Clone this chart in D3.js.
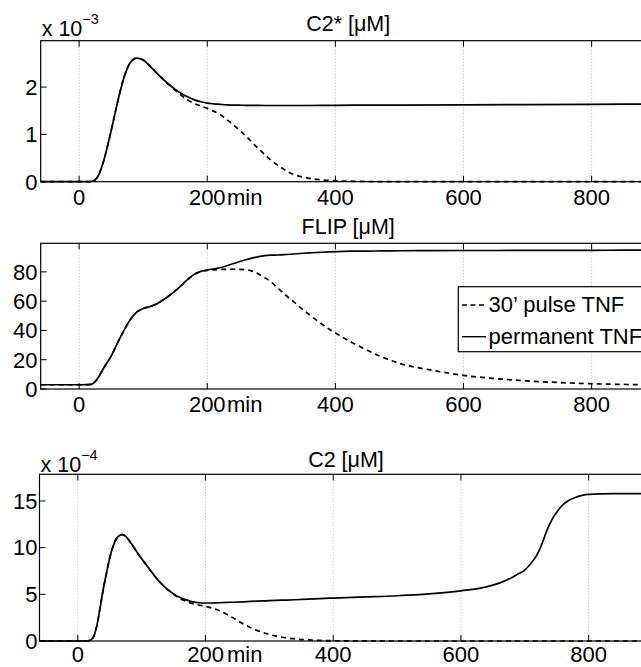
<!DOCTYPE html>
<html>
<head>
<meta charset="utf-8">
<script src="https://cdn.jsdelivr.net/npm/d3@7"></script>
<style>
  body { margin: 0; background: #fff; }
  svg { display: block; }
  text { font-family: "Liberation Sans", Arial, Helvetica, sans-serif; fill: #000; }
</style>
</head>
<body>
<svg width="641" height="667"></svg>
<script>
// ---- data ----
// panel 1: C2* (units of 1e-3 uM)
let t1 = [-60, 0, 15, 20, 25, 30, 35, 40, 45, 50, 55, 60, 65, 70, 75, 80, 85, 90, 95, 100,
  110, 120, 130, 140, 150, 160, 170, 180, 190, 200, 210, 220, 230, 240, 250, 260, 270, 280, 290, 300,
  310, 320, 330, 340, 360, 380, 400, 450, 500, 600, 700, 800, 900];
let c2sPerm = [0, 0, 0, 0.01, 0.04, 0.13, 0.3, 0.52, 0.79, 1.08, 1.38, 1.68, 1.96, 2.2, 2.39, 2.52, 2.59, 2.61, 2.6, 2.57,
  2.45, 2.31, 2.18, 2.06, 1.95, 1.86, 1.79, 1.73, 1.69, 1.66, 1.645, 1.635, 1.625, 1.62, 1.617, 1.615, 1.613, 1.612, 1.611, 1.61,
  1.61, 1.61, 1.61, 1.61, 1.61, 1.612, 1.615, 1.617, 1.62, 1.625, 1.63, 1.635, 1.64];
let c2sPulse = [0, 0, 0, 0.01, 0.04, 0.13, 0.3, 0.52, 0.79, 1.08, 1.38, 1.68, 1.96, 2.2, 2.39, 2.52, 2.59, 2.61, 2.6, 2.57,
  2.45, 2.31, 2.18, 2.05, 1.93, 1.82, 1.72, 1.65, 1.6, 1.55, 1.49, 1.42, 1.32, 1.21, 1.09, 0.97, 0.83, 0.7, 0.57, 0.45,
  0.35, 0.26, 0.18, 0.13, 0.07, 0.035, 0.02, 0.005, 0, 0, 0, 0, 0];

// panel 2: FLIP (uM)
let t2 = [-60, 0, 15, 20, 25, 30, 35, 40, 50, 60, 70, 80, 90, 100, 110, 120, 130, 140, 150, 160,
  170, 180, 190, 200, 220, 240, 260, 270, 280, 290, 300, 310, 320, 335, 350, 360, 375, 390, 405, 425,
  450, 475, 500, 550, 600, 650, 700, 750, 800, 850, 900];
let flipPerm = [2.9, 2.9, 3.0, 3.3, 5, 8, 11.8, 15.5, 22.5, 31.5, 40, 47.5, 52.5, 55, 56.2, 57.8, 60.5, 63.5, 67, 71,
  75, 78.3, 80.3, 81.3, 82.8, 85.5, 88.3, 89.4, 90.4, 91.1, 91.4, 91.5, 91.7, 92.2, 92.7, 93, 93.3, 93.6, 93.8, 94.1,
  94.2, 94.3, 94.4, 94.5, 94.6, 94.6, 94.7, 94.7, 94.7, 94.8, 94.8];
let flipPulse = [2.9, 2.9, 3.0, 3.3, 5, 8, 11.8, 15.5, 22.5, 31.5, 40, 47.5, 52.5, 55, 56.2, 57.8, 60.5, 63.5, 67, 71,
  75, 78.3, 80.3, 81.0, 81.6, 81.8, 81.5, 80.5, 78.5, 76, 73, 69, 65, 59.5, 54, 50.5, 45.5, 41, 37, 32,
  26.4, 21.5, 17.5, 12.9, 9.3, 7.1, 5.5, 4.4, 3.6, 3.1, 2.8];

// panel 3: C2 (units of 1e-4 uM)
let t3 = [-60, 0, 15, 20, 25, 30, 35, 40, 45, 50, 55, 60, 65, 70, 75, 80, 90, 100, 110, 120,
  130, 140, 150, 160, 170, 180, 190, 200, 220, 240, 260, 280, 300, 320, 340, 360, 380, 400, 450, 500,
  550, 600, 640, 660, 680, 690, 700, 705, 710, 715, 720, 725, 730, 735, 740, 745, 750, 760, 770, 780,
  790, 800, 840, 900];
let c2Perm = [0, 0, 0, 0.1, 0.5, 1.7, 3.6, 5.6, 7.3, 8.9, 10.1, 10.9, 11.3, 11.4, 11.2, 10.8, 9.8, 8.8, 7.9, 7.0,
  6.2, 5.55, 5.05, 4.65, 4.4, 4.2, 4.1, 4.07, 4.1, 4.15, 4.2, 4.27, 4.32, 4.37, 4.42, 4.48, 4.55, 4.6, 4.72, 4.85,
  5.05, 5.38, 5.8, 6.2, 6.8, 7.2, 7.6, 7.95, 8.35, 8.8, 9.35, 10.1, 11.0, 11.9, 12.65, 13.3, 13.8, 14.6, 15.1, 15.4,
  15.6, 15.7, 15.78, 15.8];
let c2Pulse = [0, 0, 0, 0.1, 0.5, 1.7, 3.6, 5.6, 7.3, 8.9, 10.1, 10.9, 11.3, 11.4, 11.2, 10.8, 9.8, 8.8, 7.9, 7.0,
  6.2, 5.55, 5.0, 4.55, 4.25, 4.0, 3.85, 3.7, 3.3, 2.6, 1.8, 1.15, 0.7, 0.4, 0.22, 0.12, 0.06, 0.03, 0.01, 0,
  0, 0, 0, 0, 0, 0, 0, 0, 0, 0, 0, 0, 0, 0, 0, 0, 0, 0, 0, 0,
  0, 0, 0, 0];

let xTicks = [0, 200, 400, 600, 800];
let legendLabels = ["30\u2019 pulse TNF", "permanent TNF"];

// ---- layout ----
let svg = d3.select("svg");
let fs = 22;

let panels = [
  { title: "C2* [\u03bcM]", t: t1, pulse: c2sPulse, perm: c2sPerm, ymax: 2.98, yTicks: [0, 1, 2], exp: "\u22123",
    left: 40.7, right: 655.7, top: 40.7, bottom: 181.7, titleY: 31, expY: 36, xLabY: 204.5 },
  { title: "FLIP [\u03bcM]", t: t2, pulse: flipPulse, perm: flipPerm, ymax: 99.5, yTicks: [0, 20, 40, 60, 80], exp: null,
    left: 40.7, right: 655.7, top: 243.3, bottom: 389, titleY: 234, expY: 0, xLabY: 411.5, legend: true },
  { title: "C2 [\u03bcM]", t: t3, pulse: c2Pulse, perm: c2Perm, ymax: 17.86, yTicks: [0, 5, 10, 15], exp: "\u22124",
    left: 39.5, right: 652.5, top: 474.3, bottom: 641, titleY: 467, expY: 471.7, xLabY: 662 }
];

panels.forEach(function(p) {
  let x = d3.scaleLinear().domain([-60, 900]).range([p.left, p.right]);
  let y = d3.scaleLinear().domain([0, p.ymax]).range([p.bottom, p.top]);
  let g = svg.append("g");

  // dotted vertical grid
  g.selectAll("line.grid")
    .data(xTicks)
    .enter().append("line")
    .attr("x1", d => x(d)).attr("x2", d => x(d))
    .attr("y1", p.top).attr("y2", p.bottom)
    .attr("stroke", "#9a9a9a")
    .attr("stroke-width", 0.8)
    .attr("stroke-dasharray", "1,2");

  let line = d3.line()
    .x((d, i) => x(p.t[i]))
    .y(d => y(d))
    .curve(d3.curveMonotoneX);

  g.append("path")
    .datum(p.pulse)
    .attr("d", line)
    .attr("fill", "none")
    .attr("stroke", "#000")
    .attr("stroke-width", 1.7)
    .attr("stroke-dasharray", "5,4");

  g.append("path")
    .datum(p.perm)
    .attr("d", line)
    .attr("fill", "none")
    .attr("stroke", "#000")
    .attr("stroke-width", 1.7);

  // box
  g.append("rect")
    .attr("x", p.left).attr("y", p.top)
    .attr("width", p.right - p.left).attr("height", p.bottom - p.top)
    .attr("fill", "none").attr("stroke", "#000").attr("stroke-width", 1.2);

  // x ticks (inward, top and bottom)
  xTicks.forEach(function(d) {
    g.append("line").attr("x1", x(d)).attr("x2", x(d)).attr("y1", p.bottom).attr("y2", p.bottom - 6)
      .attr("stroke", "#000").attr("stroke-width", 1);
    g.append("line").attr("x1", x(d)).attr("x2", x(d)).attr("y1", p.top).attr("y2", p.top + 6)
      .attr("stroke", "#000").attr("stroke-width", 1);
  });
  g.selectAll("text.xt")
    .data(xTicks)
    .enter().append("text")
    .attr("x", d => x(d))
    .attr("y", p.xLabY)
    .attr("text-anchor", "middle")
    .attr("font-size", fs)
    .text(d => d);
  g.append("text")
    .attr("x", 227)
    .attr("y", p.xLabY)
    .attr("font-size", fs)
    .text("min");

  // y ticks
  p.yTicks.forEach(function(d) {
    g.append("line").attr("x1", p.left).attr("x2", p.left + 6).attr("y1", y(d)).attr("y2", y(d))
      .attr("stroke", "#000").attr("stroke-width", 1);
  });
  g.selectAll("text.yt")
    .data(p.yTicks)
    .enter().append("text")
    .attr("x", 37.5)
    .attr("y", d => y(d) + 7.8)
    .attr("text-anchor", "end")
    .attr("font-size", fs)
    .text(d => d);

  // title
  g.append("text")
    .attr("x", (p.left + p.right) / 2)
    .attr("y", p.titleY)
    .attr("text-anchor", "middle")
    .attr("font-size", 21.5)
    .text(p.title);

  // exponent label
  if (p.exp) {
    let e = g.append("text")
      .attr("x", p.left + 1)
      .attr("y", p.expY)
      .attr("font-size", 21.5);
    e.append("tspan").text("x 10");
    e.append("tspan").attr("dy", -12).attr("font-size", 14.5).text(p.exp);
  }

  if (p.legend) {
    let lg = g.append("g");
    lg.append("rect")
      .attr("x", 458.3).attr("y", 286.7)
      .attr("width", 250).attr("height", 65)
      .attr("fill", "#fff").attr("stroke", "#000").attr("stroke-width", 1.2);
    let rows = [305, 336.7];
    legendLabels.forEach(function(lab, i) {
      lg.append("line")
        .attr("x1", 462).attr("x2", 486)
        .attr("y1", rows[i]).attr("y2", rows[i])
        .attr("stroke", "#000").attr("stroke-width", 1.4)
        .attr("stroke-dasharray", i === 0 ? "5,3.5" : null);
      lg.append("text")
        .attr("x", 488.5)
        .attr("y", rows[i] + 7)
        .attr("font-size", fs)
        .text(lab);
    });
  }
});
</script>
</body>
</html>
